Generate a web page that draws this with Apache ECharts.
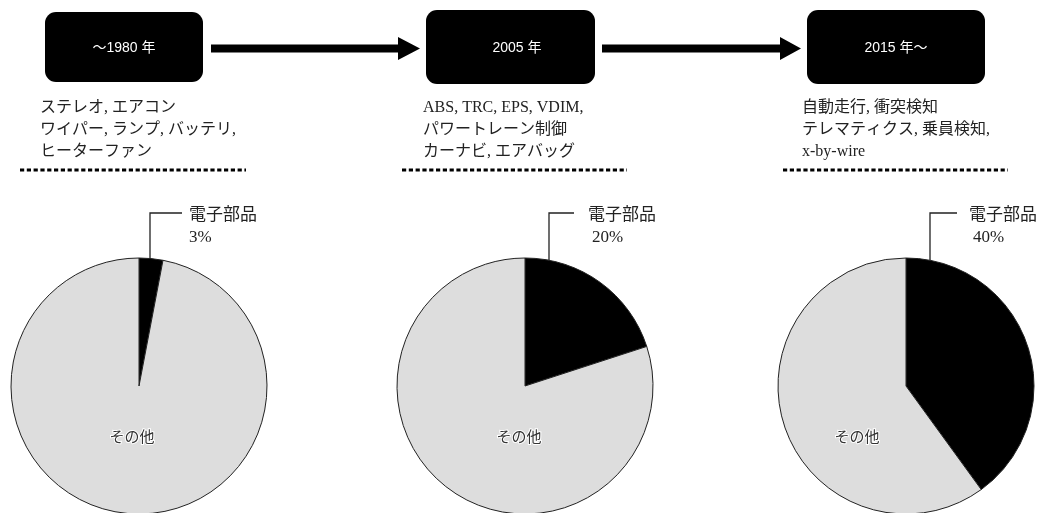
<!DOCTYPE html>
<html>
<head>
<meta charset="utf-8">
<script src="https://cdn.jsdelivr.net/npm/echarts@6/dist/echarts.min.js"></script>
<style>
  html, body { margin: 0; padding: 0; background: #fff; }
  #chart { width: 1039px; height: 513px; }
</style>
</head>
<body>
<div id="chart"></div>
<script>
// Share of electronic parts in a car, by era
const categories = ['電子部品', 'その他'];
const periods = ['〜1980 年', '2005 年', '2015 年〜'];
const electronicShare = [3, 20, 40];
const otherShare = [97, 80, 60];
const partLists = [
  ['ステレオ, エアコン', 'ワイパー, ランプ, バッテリ,', 'ヒーターファン'],
  ['ABS, TRC, EPS, VDIM,', 'パワートレーン制御', 'カーナビ, エアバッグ'],
  ['自動走行, 衝突検知', 'テレマティクス, 乗員検知,', 'x-by-wire']
];

// Layout of the three columns
const pieCenters = [[139, 386], [525, 386], [906, 386]];
const pieRadius = 128;
const leaderDx = [11, 24, 24];       // where the leader line leaves the pie top
const leaderLen = [32, 25, 27];      // horizontal run of the leader line
const labelGap = [7, 14, 12];
const valueIndent = [0, 4, 4];
const otherLabelDx = [-7, -6, -49];
const boxes = [[45, 12, 158, 70, 124], [426, 10, 169, 74, 517], [807, 10, 178, 74, 896]];
const descX = [40, 423, 802];
const dotted = [[20, 246], [402, 627], [783, 1008]];

const serif = '"Liberation Serif", "DejaVu Serif", "Noto Sans CJK JP", serif';
const sans = '"Liberation Sans", Arial, "Noto Sans CJK JP", sans-serif';
const LEADER_Y = 213;

const chart = echarts.init(document.getElementById('chart'), null, { renderer: 'canvas' });

const graphics = [];
boxes.forEach((b, i) => {
  graphics.push({
    type: 'rect', shape: { x: b[0], y: b[1], width: b[2], height: b[3], r: 11 },
    style: { fill: '#000' }
  });
  graphics.push({
    type: 'text', x: b[4], y: b[1] + b[3] / 2 + 1,
    style: { text: periods[i], fill: '#fff', font: '14px ' + sans, align: 'center', verticalAlign: 'middle' }
  });
  graphics.push({
    type: 'text', x: descX[i], y: 97,
    style: { text: partLists[i].join('\n'), fill: '#222', font: '16px ' + serif, lineHeight: 22, align: 'left', verticalAlign: 'top' }
  });
  graphics.push({
    type: 'line', shape: { x1: dotted[i][0], y1: 170, x2: dotted[i][1], y2: 170 },
    style: { stroke: '#000', lineWidth: 3, lineDash: [4.2, 2.6] }
  });
});
// Arrows between the eras
[[211, 398, 420], [602, 780, 801]].forEach(a => {
  graphics.push({
    type: 'polygon',
    shape: { points: [[a[0], 44.5], [a[1], 44.5], [a[1], 37], [a[2], 48.5], [a[1], 60], [a[1], 52.5], [a[0], 52.5]] },
    style: { fill: '#000' }
  });
});

const series = electronicShare.map((v, i) => {
  const [cx, cy] = pieCenters[i];
  const px = cx + leaderDx[i];
  const py = cy - Math.sqrt(pieRadius * pieRadius - leaderDx[i] * leaderDx[i]);
  const endX = px + leaderLen[i];
  return {
    type: 'pie',
    center: [cx, cy],
    radius: [0, pieRadius],
    startAngle: 90,
    clockwise: true,
    avoidLabelOverlap: false,
    silent: true,
    animation: false,
    itemStyle: { borderColor: '#222', borderWidth: 1 },
    data: [
      {
        name: categories[0], value: v,
        itemStyle: { color: '#000' },
        label: {
          show: true, position: 'outside',
          formatter: '{n|{b}}\n{v|{c}%}',
          rich: {
            n: { fontSize: 17, fontFamily: serif, color: '#222', lineHeight: 22 },
            v: { fontSize: 17, fontFamily: serif, color: '#222', lineHeight: 22, padding: [0, 0, 0, valueIndent[i]] }
          }
        },
        labelLine: { show: true, lineStyle: { color: '#222', width: 1.3 } }
      },
      {
        name: categories[1], value: otherShare[i],
        itemStyle: { color: '#dddddd' },
        label: {
          show: true, position: 'inside', formatter: '{b}',
          color: '#333', fontSize: 15, fontFamily: serif,
          textBorderColor: '#fff', textBorderWidth: 2
        },
        labelLine: { show: false }
      }
    ],
    labelLayout: function (params) {
      if (params.dataIndex === 0) {
        return {
          x: endX + labelGap[i], y: LEADER_Y - 8,
          align: 'left', verticalAlign: 'top',
          labelLinePoints: [[px, py], [px, LEADER_Y], [endX, LEADER_Y]]
        };
      }
      return { x: cx + otherLabelDx[i], y: cy + 52, align: 'center', verticalAlign: 'middle' };
    }
  };
});

chart.setOption({
  backgroundColor: '#fff',
  animation: false,
  series: series,
  graphic: { elements: graphics }
});
</script>
</body>
</html>
